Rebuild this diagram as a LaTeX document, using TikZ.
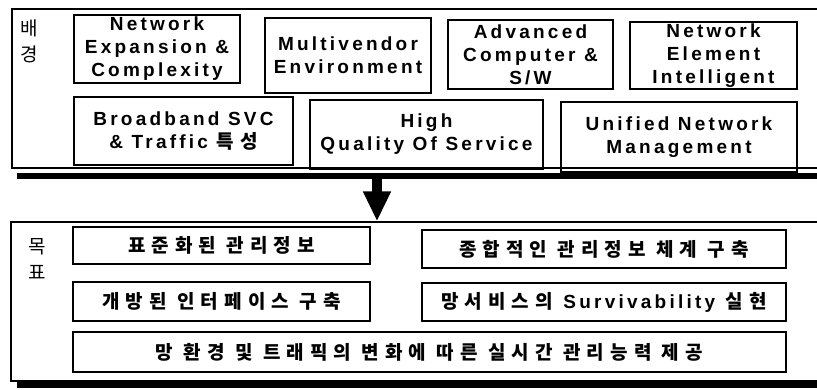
\documentclass[tikz,border=0pt]{standalone}
\usepackage{fontspec}
\usetikzlibrary{arrows.meta}
\newfontfamily\enfont[LetterSpace=17]{Liberation Sans}
\newfontfamily\krfont[LetterSpace=32]{Noto Sans CJK KR}
\newfontfamily\krhead{Noto Sans CJK KR}
\tikzset{
  outerbox/.style={draw, line width=1.3pt, inner sep=0pt},
  itembox/.style={draw, line width=1.1pt, inner sep=0pt, align=center,
    font=\enfont\bfseries\fontsize{19}{23}\selectfont},
  kritem/.style={itembox, font=\krfont\bfseries\fontsize{19}{23}\selectfont},
  headlabel/.style={align=center, inner sep=0pt,
    font=\krhead\fontsize{19}{26}\selectfont},
  shadowbar/.style={line width=6pt},
  flow/.style={line width=10pt, -{Triangle[width=26pt,length=30pt]}}
}
\begin{document}
\begin{tikzpicture}[x=1pt,y=-1pt]
\useasboundingbox (0,0) rectangle (817,389);

% background block
\node[outerbox, minimum width=808pt, minimum height=159pt] (bg) at (416,88.5) {};
\coordinate (bgsl) at (17,175.5);
\draw[shadowbar] (bgsl) -- (bgsl -| bg.east);
\node[headlabel] (bglab) at (29,41) {배\\경};

\node[itembox, minimum width=166pt, minimum height=68pt] (a) at (157,49)
  {Network\\Expansion \&\\Complexity};
\node[itembox, minimum width=166pt, minimum height=75pt] (b) at (348,55.5)
  {Multivendor\\Environment};
\node[itembox, minimum width=165pt, minimum height=69pt] (c) at (530.5,54.5)
  {Advanced\\Computer \&\\S/W};
\node[itembox, minimum width=167pt, minimum height=67pt] (d) at (713.5,55.5)
  {Network\\Element\\Intelligent};
\node[itembox, minimum width=219pt, minimum height=68pt] (e) at (183.5,131)
  {Broadband SVC\\\& Traffic {\krfont 특성}};
\node[itembox, minimum width=233pt, minimum height=69pt] (f) at (426.5,134.5)
  {High\\Quality Of Service};
\node[itembox, minimum width=236pt, minimum height=70pt] (g) at (679,137)
  {Unified Network\\Management};

% goal block
\node[outerbox, minimum width=809pt, minimum height=159pt] (goal) at (415.5,301.5) {};
\coordinate (goalsl) at (17,385);
\draw[shadowbar] (goalsl) -- (goalsl -| goal.east);
\node[headlabel] (goallab) at (37,259) {목\\표};

\node[kritem, minimum width=297pt, minimum height=37pt] (h) at (221.5,245.5)
  {표준화된 관리정보};
\node[kritem, minimum width=364pt, minimum height=38pt] (i) at (604,249)
  {종합적인 관리정보 체계 구축};
\node[kritem, minimum width=297pt, minimum height=39pt] (j) at (221.5,301.5)
  {개방된 인터페이스 구축};
\node[kritem, minimum width=364pt, minimum height=38pt] (k) at (604,302)
  {망서비스의 {\enfont Survivability} 실현};
\node[kritem, minimum width=713pt, minimum height=40pt] (l) at (429.5,352)
  {망 환경 및 트래픽의 변화에 따른 실시간 관리능력 제공};

% flow from background to goals
\coordinate (src) at (377,178);
\draw[flow] (src) -- (src |- goal.north);
\end{tikzpicture}
\end{document}
